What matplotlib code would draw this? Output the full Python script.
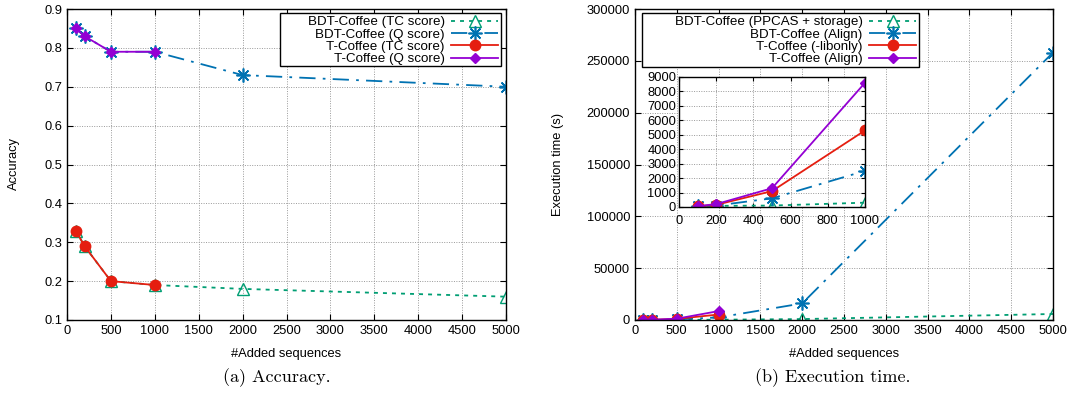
import matplotlib
matplotlib.use("Agg")
import matplotlib.pyplot as plt
from matplotlib.patches import Rectangle

plt.rcParams["font.family"] = ["Liberation Sans", "DejaVu Sans"]
plt.rcParams["font.size"] = 9.3

# data
added_bdt = [100, 200, 500, 1000, 2000, 5000]
added_tc = [100, 200, 500, 1000]

acc_bdt_tc = [0.33, 0.29, 0.20, 0.19, 0.18, 0.16]
acc_bdt_q = [0.85, 0.83, 0.79, 0.79, 0.73, 0.70]
acc_tcoffee_tc = [0.33, 0.29, 0.20, 0.19]
acc_tcoffee_q = [0.85, 0.83, 0.79, 0.79]

time_bdt_ppcas = [50, 80, 100, 300, 900, 5800]
time_bdt_align = [50, 100, 600, 2500, 16000, 258000]
time_tcoffee_libonly = [50, 150, 1100, 5300]
time_tcoffee_align = [60, 200, 1300, 8600]

acc_labels = ["BDT-Coffee (TC score)", "BDT-Coffee (Q score)",
              "T-Coffee (TC score)", "T-Coffee (Q score)"]
time_labels = ["BDT-Coffee (PPCAS + storage)", "BDT-Coffee (Align)",
               "T-Coffee (-libonly)", "T-Coffee (Align)"]

GREEN = "#009e73"
BLUE = "#0072b2"
RED = "#e51e10"
PURPLE = "#9400d3"
ASTER = (8, 2, 0)
DOTTED = (0, (2.2, 2.8))
DASHDOT = (0, (9, 4, 1.5, 4))

W, H = 1070, 400


def box(left, top, right, bottom):
    return [left / W, 1 - bottom / H, (right - left) / W, (bottom - top) / H]


def style_axis(axis):
    axis.grid(True, linestyle=(0, (1, 1.5)), color="#999999", linewidth=0.7)
    axis.tick_params(direction="in", top=True, right=True, length=4, labelsize=9.3)
    for spine in axis.spines.values():
        spine.set_linewidth(1.0)


def plot_four(axis, xs_bdt, xs_tc, y1, y2, y3, y4, labels):
    axis.plot(xs_bdt, y1, color=GREEN, linestyle=DOTTED, linewidth=1.3,
              marker="^", markersize=8, markerfacecolor="none",
              markeredgewidth=1.0, label=labels[0])
    axis.plot(xs_bdt, y2, color=BLUE, linestyle=DASHDOT, linewidth=1.3,
              marker=ASTER, markersize=10, markeredgewidth=1.2,
              label=labels[1])
    axis.plot(xs_tc, y3, color=RED, linestyle="-", linewidth=1.3,
              marker="o", markersize=7.5, label=labels[2])
    axis.plot(xs_tc, y4, color=PURPLE, linestyle="-", linewidth=1.3,
              marker="D", markersize=5, label=labels[3])


def add_legend(fig, axis, frame, right_px):
    # gnuplot-like key: a fixed box with right-aligned labels and samples on the right
    left, top, right, bottom = frame
    rect = Rectangle((left / W, 1 - bottom / H), (right - left) / W,
                     (bottom - top) / H, transform=fig.transFigure,
                     facecolor="white", edgecolor="black", linewidth=1.0,
                     zorder=5, clip_on=False)
    axis.add_patch(rect)
    legend = axis.legend(loc="upper right", bbox_to_anchor=(right_px / W, 1 - (top + 3) / H),
                         bbox_transform=fig.transFigure, frameon=False,
                         markerfirst=False, handlelength=3.5, borderpad=0.0,
                         labelspacing=0.0, fontsize=9.6, handletextpad=0.5,
                         borderaxespad=0.0)
    legend.set_zorder(6)
    for text in legend.get_texts():
        text.set_ha("right")
    return legend


fig = plt.figure(figsize=(W / 100, H / 100), dpi=100)

# (a) accuracy
ax1 = fig.add_axes(box(67, 9, 506, 320))
plot_four(ax1, added_bdt, added_tc, acc_bdt_tc, acc_bdt_q,
          acc_tcoffee_tc, acc_tcoffee_q, acc_labels)
ax1.set_xlim(0, 5000)
ax1.set_ylim(0.1, 0.9)
ax1.set_xticks(range(0, 5001, 500))
ax1.set_yticks([0.1 * i for i in range(1, 10)])
ax1.set_yticklabels([f"{0.1 * i:.1f}" for i in range(1, 10)])
style_axis(ax1)
add_legend(fig, ax1, (280, 13, 501, 66), 498)
fig.text(14 / W, 1 - 164 / H, "Accuracy", rotation=90, ha="center", va="center")
fig.text(286 / W, 1 - 354 / H, "#Added sequences", ha="center", va="center")

# (b) execution time
ax2 = fig.add_axes(box(635, 9, 1053, 320))
plot_four(ax2, added_bdt, added_tc, time_bdt_ppcas, time_bdt_align,
          time_tcoffee_libonly, time_tcoffee_align, time_labels)
ax2.set_xlim(0, 5000)
ax2.set_ylim(0, 300000)
ax2.set_xticks(range(0, 5001, 500))
ax2.set_yticks(range(0, 300001, 50000))
style_axis(ax2)
add_legend(fig, ax2, (642, 13, 919, 67), 916)
fig.text(558 / W, 1 - 164 / H, "Execution time (s)", rotation=90, ha="center", va="center")
fig.text(844 / W, 1 - 354 / H, "#Added sequences", ha="center", va="center")

# inset
ax3 = fig.add_axes(box(679, 77, 865, 207))
plot_four(ax3, added_bdt[:4], added_tc, time_bdt_ppcas[:4], time_bdt_align[:4],
          time_tcoffee_libonly, time_tcoffee_align, time_labels)
ax3.set_xlim(0, 1000)
ax3.set_ylim(0, 9000)
ax3.set_xticks(range(0, 1001, 200))
ax3.set_yticks(range(0, 9001, 1000))
style_axis(ax3)
ax3.tick_params(length=3)
ax3.tick_params(axis="x", pad=6)
ax3.tick_params(axis="y", pad=2)
ax3.set_zorder(7)

# captions
fig.text(277 / W, 1 - 378 / H, "(a) Accuracy.", family="cmr10",
         fontsize=13, ha="center", va="center")
fig.text(833 / W, 1 - 378 / H, "(b) Execution time.", family="cmr10",
         fontsize=13, ha="center", va="center")

fig.savefig("out.png", dpi=100)
